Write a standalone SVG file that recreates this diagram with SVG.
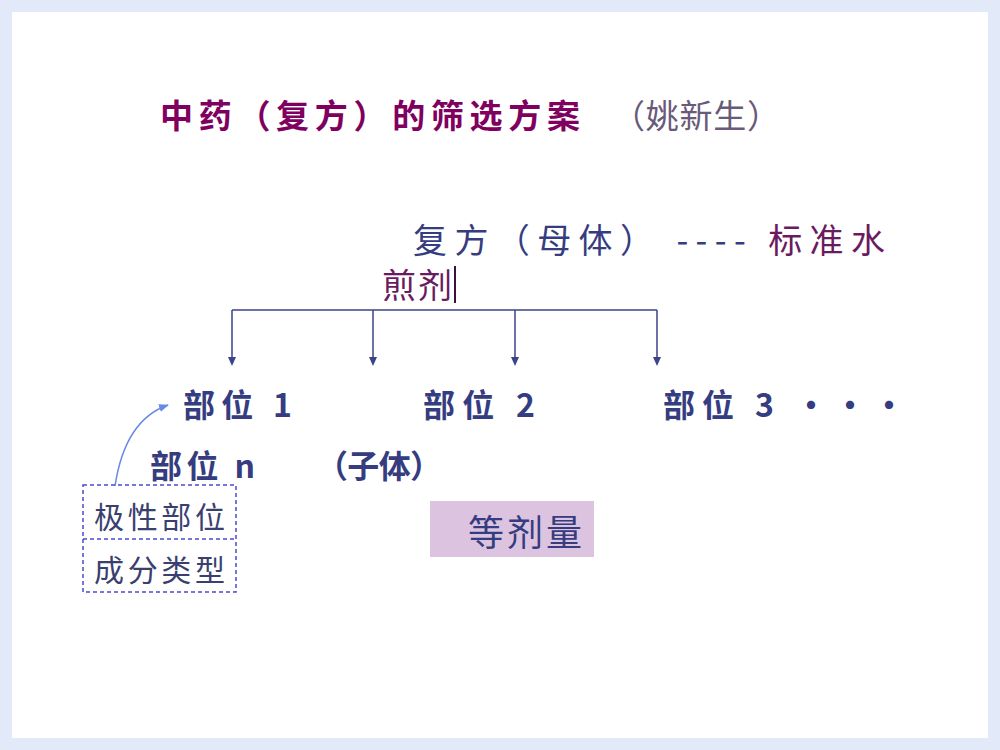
<svg xmlns="http://www.w3.org/2000/svg" width="1000" height="750" viewBox="0 0 1000 750">
<style>
text{font-family:"Noto Sans CJK SC","Liberation Serif",serif}
.b{fill:#363c80;font-size:32px;font-weight:bold}
.p{fill:#6a1a60}
.ln{stroke:#3c4488;stroke-width:1.5;fill:none}
</style>
<defs>
<marker id="ah2" markerWidth="10" markerHeight="10" refX="9" refY="5" orient="auto" markerUnits="userSpaceOnUse"><path d="M0,1 L10,5 L0,9 Z" fill="#6a88e8"/></marker>
</defs>
<rect width="1000" height="750" fill="#e2e9f8"/>
<rect x="12" y="12" width="976" height="726" fill="#fff"/>
<g id="title">
<text x="160" y="128" font-size="33" font-weight="bold" fill="#800060" textLength="420" lengthAdjust="spacing">中药（复方）的筛选方案</text>
<text x="612" y="128" font-size="33" fill="#6a5a7a" textLength="168" lengthAdjust="spacing">（姚新生）</text>
</g>
<g id="root">
<text x="413" y="253" font-size="34" fill="#363c80" textLength="472" lengthAdjust="spacing">复方（母体） ---- <tspan fill="#6a1a60">标准水</tspan></text>
<text x="382" y="298" font-size="34" class="p" textLength="70" lengthAdjust="spacing">煎剂</text>
<line x1="455" y1="266" x2="455" y2="303" stroke="#3a1040" stroke-width="2"/>
</g>
<g id="connectors">
<path class="ln" d="M232,310 H657 M232,310 V364 M373,310 V364 M515,310 V364 M657,310 V364"/>
<path d="M228,357 L236,357 L232,366 Z M369,357 L377,357 L373,366 Z M511,357 L519,357 L515,366 Z M653,357 L661,357 L657,366 Z" fill="#3c4488"/>
<path d="M115,486 Q125,420 168,405" stroke="#6a88e8" stroke-width="1.5" fill="none" marker-end="url(#ah2)"/>
</g>
<g id="n1"><text x="183" y="417" class="b" textLength="109" lengthAdjust="spacing">部位 1</text></g>
<g id="n2"><text x="423" y="417" class="b" textLength="112" lengthAdjust="spacing">部位 2</text></g>
<g id="n3"><text x="663" y="417" class="b" textLength="242" lengthAdjust="spacing">部位 3 ・・・</text></g>
<g id="nn"><text x="150" y="478" class="b" textLength="105" lengthAdjust="spacing">部位 n</text><text x="316" y="478" class="b" textLength="126" lengthAdjust="spacing">（子体）</text></g>
<g id="box">
<rect x="83" y="485" width="153" height="107" fill="none" stroke="#4a4ad0" stroke-width="1.5" stroke-dasharray="4,3"/>
<line x1="83" y1="539" x2="236" y2="539" stroke="#4a4ad0" stroke-width="1.5" stroke-dasharray="4,3"/>
<text x="94" y="528" font-size="30" fill="#3a3f70" textLength="131" lengthAdjust="spacing">极性部位</text>
<text x="94" y="581" font-size="30" fill="#3a3f70" textLength="131" lengthAdjust="spacing">成分类型</text>
</g>
<g id="eq">
<rect x="430" y="501" width="164" height="56" fill="#dcc4e0"/>
<text x="468" y="546" font-size="36" fill="#363c80" textLength="114" lengthAdjust="spacing">等剂量</text>
</g>
</svg>
